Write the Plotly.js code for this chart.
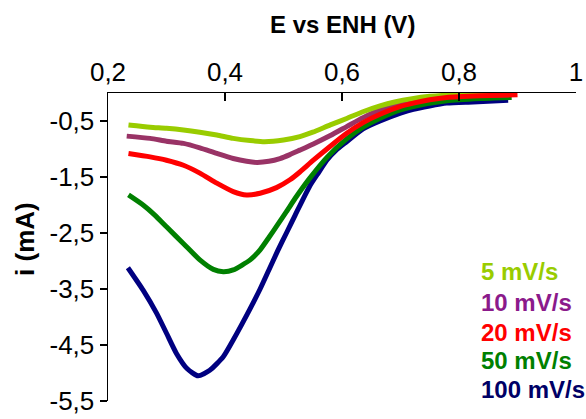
<!DOCTYPE html>
<html>
<head>
<meta charset="utf-8">
<script src="https://cdn.plot.ly/plotly-3.0.1.min.js"></script>
<style>html,body{margin:0;padding:0;background:#fff;}#chart{width:586px;height:419px;}</style>
</head>
<body>
<div id="chart"></div>
<script>
// Series: potential E vs ENH (V) and current i (mA)
const x5 = [0.235,0.272,0.300,0.329,0.357,0.386,0.414,0.443,0.468,0.500,0.528,0.550,0.580,0.609,0.637,0.665,0.690,0.720,0.750,0.780,0.830,0.885];
const y5 = [-0.57,-0.61,-0.63,-0.66,-0.70,-0.75,-0.81,-0.85,-0.87,-0.84,-0.78,-0.70,-0.57,-0.45,-0.33,-0.23,-0.16,-0.10,-0.06,-0.04,-0.03,-0.02];

const x10 = [0.232,0.272,0.300,0.329,0.357,0.386,0.414,0.437,0.455,0.475,0.494,0.511,0.528,0.551,0.580,0.608,0.636,0.665,0.700,0.750,0.800,0.850,0.885];
const y10 = [-0.77,-0.81,-0.86,-0.90,-0.98,-1.08,-1.17,-1.22,-1.24,-1.22,-1.17,-1.10,-1.02,-0.91,-0.76,-0.60,-0.44,-0.30,-0.19,-0.09,-0.05,-0.04,-0.03];

const x20 = [0.235,0.272,0.300,0.329,0.357,0.386,0.414,0.437,0.460,0.488,0.511,0.528,0.551,0.580,0.608,0.636,0.665,0.700,0.722,0.750,0.779,0.836,0.900];
const y20 = [-1.08,-1.14,-1.20,-1.29,-1.43,-1.61,-1.76,-1.82,-1.79,-1.69,-1.55,-1.41,-1.20,-0.95,-0.72,-0.53,-0.38,-0.24,-0.18,-0.12,-0.08,-0.05,-0.03];

const x50 = [0.235,0.260,0.280,0.300,0.330,0.357,0.380,0.397,0.414,0.443,0.460,0.475,0.490,0.505,0.520,0.545,0.575,0.608,0.636,0.665,0.700,0.722,0.779,0.836,0.890];
const y50 = [-1.82,-2.00,-2.18,-2.39,-2.70,-2.98,-3.15,-3.19,-3.16,-2.98,-2.80,-2.58,-2.35,-2.12,-1.88,-1.52,-1.14,-0.82,-0.61,-0.45,-0.30,-0.24,-0.14,-0.10,-0.08];

const x100 = [0.234,0.260,0.283,0.300,0.317,0.335,0.354,0.374,0.397,0.414,0.443,0.460,0.475,0.490,0.505,0.520,0.545,0.560,0.574,0.590,0.608,0.636,0.665,0.700,0.722,0.779,0.824,0.884];
const y100 = [-3.12,-3.52,-3.93,-4.29,-4.65,-4.92,-5.05,-4.95,-4.71,-4.41,-3.85,-3.50,-3.16,-2.82,-2.50,-2.18,-1.66,-1.42,-1.20,-1.02,-0.87,-0.64,-0.50,-0.36,-0.29,-0.18,-0.16,-0.13];

const seriesNames = ['5 mV/s','10 mV/s','20 mV/s','50 mV/s','100 mV/s'];
const lineColors = ['#99CC00','#993366','#FF0000','#008000','#000080'];
const labelColors = ['#99CC00','#8B1A8B','#FF0000','#008000','#000066'];

const xTickVals = [0.2,0.4,0.6,0.8,1];
const xTickText = ['0,2','0,4','0,6','0,8','1'];
const yTickVals = [-0.5,-1.5,-2.5,-3.5,-4.5,-5.5];
const yTickText = ['-0,5','-1,5','-2,5','-3,5','-4,5','-5,5'];

const xs = [x5,x10,x20,x50,x100];
const ys = [y5,y10,y20,y50,y100];
const drawOrder = [4,3,1,0,2];

const FONT = 'Liberation Sans, Arial, sans-serif';

const traces = drawOrder.map(i => ({
  x: xs[i], y: ys[i], name: seriesNames[i], type: 'scatter', mode: 'lines',
  line: {color: lineColors[i], width: 5, shape: 'spline', smoothing: 0.6},
  showlegend: false, hoverinfo: 'skip'
}));

const legendY = [0.419,0.321,0.224,0.133,0.036];
const annotations = seriesNames.map((n,i) => ({
  text: '<b>'+n+'</b>', xref:'paper', yref:'paper', x:0.7927, y:legendY[i],
  xanchor:'left', yanchor:'middle', showarrow:false,
  font:{family:FONT, size:24, color:labelColors[i]}
}));
annotations.push({
  text:'<b>E vs ENH (V)</b>', xref:'paper', yref:'paper', x:0.5, y:1.221,
  xanchor:'center', yanchor:'middle', showarrow:false,
  font:{family:FONT, size:24, color:'#000'}
});
annotations.push({
  text:'<b>i (mA)</b>', xref:'paper', yref:'paper', x:-0.1774, y:0.526,
  xanchor:'center', yanchor:'middle', showarrow:false, textangle:-90,
  font:{family:FONT, size:26, color:'#000'}
});

const layout = {
  width:586, height:419,
  margin:{l:108, r:10, t:93, b:18},
  paper_bgcolor:'#fff', plot_bgcolor:'#fff',
  separators:', ',
  font:{family:FONT, color:'#000'},
  xaxis:{
    side:'top', range:[0.2,1], tickvals:xTickVals, ticktext:xTickText,
    ticks:'inside', ticklen:8, tickwidth:1.5, tickcolor:'#000',
    showline:true, linecolor:'#000', linewidth:1.5, showgrid:false, zeroline:false,
    tickfont:{family:FONT, size:26, color:'#000'}, fixedrange:true
  },
  yaxis:{
    range:[-5.5,0], tickvals:yTickVals, ticktext:yTickText,
    ticks:'outside', ticklen:7, tickwidth:1.5, tickcolor:'#000',
    showline:true, linecolor:'#000', linewidth:1.5, showgrid:false, zeroline:false,
    tickfont:{family:FONT, size:26, color:'#000'}, fixedrange:true
  },
  annotations: annotations,
  showlegend:false
};

Plotly.newPlot('chart', traces, layout, {displayModeBar:false, staticPlot:true});
</script>
</body>
</html>
